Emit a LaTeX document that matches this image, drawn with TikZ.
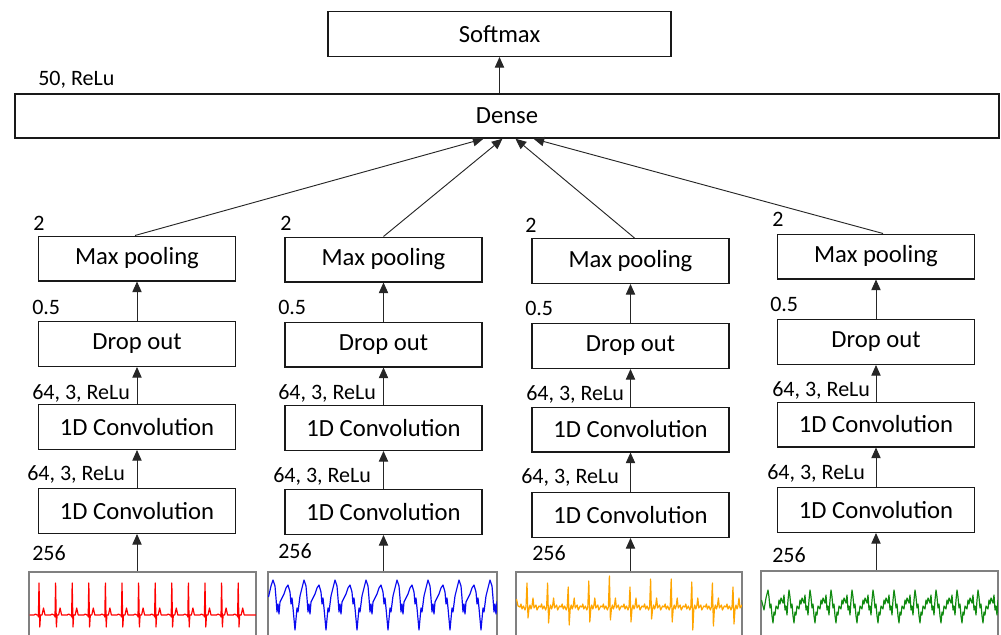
\documentclass[tikz,border=0pt]{standalone}
\usepackage{fontspec}
\setmainfont{Carlito}
\usetikzlibrary{arrows.meta,calc}
\definecolor{trOrange}{HTML}{FFA500}
\definecolor{trGreen}{HTML}{108A10}
\definecolor{trBlue}{HTML}{0A0AF0}

\begin{document}
\begin{tikzpicture}[x=0.75pt,y=-0.75pt,
  blk/.style={draw=black!90,line width=1.1pt,minimum width=148pt,minimum height=33.4pt,
    inner sep=0pt,font=\fontsize{18.5}{20}\selectfont},
  lbl/.style={anchor=base west,inner sep=0pt,font=\fontsize{16.5}{18}\selectfont},
  arr/.style={draw=black!85,line width=0.7pt,-{Triangle[length=8pt,width=7pt]}},
  sigbox/.style={draw=black!50,line width=0.8pt,minimum width=#1*0.75pt,
    minimum height=51pt,inner sep=0pt},
  wave/.style={line width=0.9pt,line join=round}]

\useasboundingbox (0,0) rectangle (1001,635);

% top of the network
\node[blk,minimum width=257.25pt] (sm) at (499.5,34) {Softmax};
\node[blk,minimum width=738pt,minimum height=33pt] (dense) at (507,116) {Dense};
\node[lbl] (lblD) at (38,86) {50, ReLu};
\draw[arr] (sm.south |- dense.north) -- (sm.south);

% the four branches
\foreach \i/\cx/\ymp/\ydo/\yca/\ycb in
  {1/137/258.5/344/427/511, 2/383.5/259.5/344.5/428/512,
   3/630.5/261/346/429.5/515, 4/876/256.5/342/424.5/510}{
  \node[blk] (mp\i) at (\cx,\ymp) {Max pooling};
  \node[blk] (do\i) at (\cx,\ydo) {Drop out};
  \node[blk] (ca\i) at (\cx,\yca) {1D Convolution};
  \node[blk] (cb\i) at (\cx,\ycb) {1D Convolution};
  \draw[arr] (do\i.north) -- (mp\i.south);
  \draw[arr] (ca\i.north) -- (do\i.south);
  \draw[arr] (cb\i.north) -- (ca\i.south);
}

% input signal frames
\node[sigbox=227] (sig1) at (142.5,606) {};
\node[sigbox=229] (sig2) at (382.5,606) {};
\node[sigbox=226] (sig3) at (629,606) {};
\node[sigbox=237] (sig4) at (879.5,605) {};
\foreach \i in {1,...,4}{
  \draw[arr] (cb\i.south |- sig\i.north) -- (cb\i.south);
}

% branch outputs into the dense layer
\draw[arr] ([xshift=-1.5pt]mp1.north) -- ([xshift=-17.625pt]dense.south);
\draw[arr] (mp2.north) -- ([xshift=-3.375pt]dense.south);
\draw[arr] ([xshift=3pt]mp3.north) -- ([xshift=6.375pt]dense.south);
\draw[arr] ([xshift=5.25pt]mp4.north) -- ([xshift=19.875pt]dense.south);

% layer parameters
\node[lbl] (p1a) at (33,230) {2};
\node[lbl] (p1b) at (32,314) {0.5};
\node[lbl] (p1c) at (32,399) {64, 3, ReLu};
\node[lbl] (p1d) at (27,480) {64, 3, ReLu};
\node[lbl] (p1e) at (32,560) {256};
\node[lbl] (p2a) at (280,230) {2};
\node[lbl] (p2b) at (278,314) {0.5};
\node[lbl] (p2c) at (278,399) {64, 3, ReLu};
\node[lbl] (p2d) at (273,482) {64, 3, ReLu};
\node[lbl] (p2e) at (278,558) {256};
\node[lbl] (p3a) at (525,233) {2};
\node[lbl] (p3b) at (525,315) {0.5};
\node[lbl] (p3c) at (526,400) {64, 3, ReLu};
\node[lbl] (p3d) at (521,483) {64, 3, ReLu};
\node[lbl] (p3e) at (532,560) {256};
\node[lbl] (p4a) at (772,227) {2};
\node[lbl] (p4b) at (770,311) {0.5};
\node[lbl] (p4c) at (772,396) {64, 3, ReLu};
\node[lbl] (p4d) at (767,479) {64, 3, ReLu};
\node[lbl] (p4e) at (772,562) {256};

% red trace
\begin{scope}
  \clip (sig1.south west) rectangle (sig1.north east);
  \draw[wave,red] (29.5,615) -- (34,615)
    \foreach \k in {0,...,12}{
      -- ++(1.5,-1) -- ++(1.5,1) -- ++(1,0) -- ++(0.4,2) -- ++(0.6,-34)
      -- ++(0.8,44) -- ++(0.7,-12) -- ++(1.5,0) -- ++(1.5,-7) -- ++(1.5,7) -- ++(5.6,0)}
    -- (256,615);
\end{scope}

% blue trace
\begin{scope}
  \clip (sig2.south west) rectangle (sig2.north east);
  \draw[wave,trBlue] (268.5,597) -- (271,586)
    \foreach \k in {0,...,7}{
      -- ({273+31*\k},580) -- ({275+31*\k},586) -- ({276+31*\k},598)
      -- ({277+31*\k},612) -- ({278+31*\k},604) -- ({279+31*\k},614)
      -- ({280+31*\k},602) -- ({282+31*\k},598) -- ({284+31*\k},594)
      -- ({286+31*\k},588) -- ({288+31*\k},585) -- ({290+31*\k},592)
      -- ({291+31*\k},604) -- ({292+31*\k},598) -- ({293+31*\k},608)
      -- ({295+31*\k},630) -- ({297+31*\k},608) -- ({298+31*\k},612)
      -- ({300+31*\k},596) -- ({302+31*\k},588)};
\end{scope}

% orange trace
\begin{scope}
  \clip (sig3.south west) rectangle (sig3.north east);
  \draw[wave,trOrange] (516.5,599) -- (518,606)
    \foreach \k/\h/\d in {0/583/618, 1/583/623, 2/587/625, 3/581/622, 4/576/620,
        5/587/622, 6/579/619, 7/579/622, 8/582/630, 9/583/626, 10/587/624}{
      -- ({520+20.6*\k},607) -- ({521+20.6*\k},604) -- ({522+20.6*\k},609)
      -- ({523.5+20.6*\k},606) -- ({525+20.6*\k},610) -- ({526+20.6*\k},607)
      -- ({527+20.6*\k},\h) -- ({528+20.6*\k},\d)
      -- ({529+20.6*\k},609) -- ({530+20.6*\k},605) -- ({531+20.6*\k},609)
      -- ({532+20.6*\k},606) -- ({533+20.6*\k},598) -- ({534+20.6*\k},608)
      -- ({536+20.6*\k},605) -- ({537+20.6*\k},610) -- ({539+20.6*\k},606)};
\end{scope}

% green trace
\begin{scope}
  \clip (sig4.south west) rectangle (sig4.north east);
  \draw[wave,trGreen] (761.5,600) -- (764,610) -- (766,598)
    \foreach \k in {0,...,10}{
      -- ({768+21*\k},590) -- ({769+21*\k},597) -- ({770+21*\k},608)
      -- ({771+21*\k},604) -- ({772+21*\k},616) -- ({773+21*\k},623)
      -- ({774+21*\k},612) -- ({775+21*\k},615) -- ({776+21*\k},606)
      -- ({778+21*\k},609) -- ({779+21*\k},600) -- ({780+21*\k},604)
      -- ({781+21*\k},598) -- ({783+21*\k},603) -- ({784+21*\k},595)
      -- ({785+21*\k},610) -- ({786+21*\k},606) -- ({787+21*\k},615)
      -- ({788+21*\k},600)};
\end{scope}

% redraw frames over the traces
\foreach \i in {1,...,4}{
  \draw[draw=black!50,line width=0.8pt] (sig\i.south west) rectangle (sig\i.north east);
}
\end{tikzpicture}
\end{document}
